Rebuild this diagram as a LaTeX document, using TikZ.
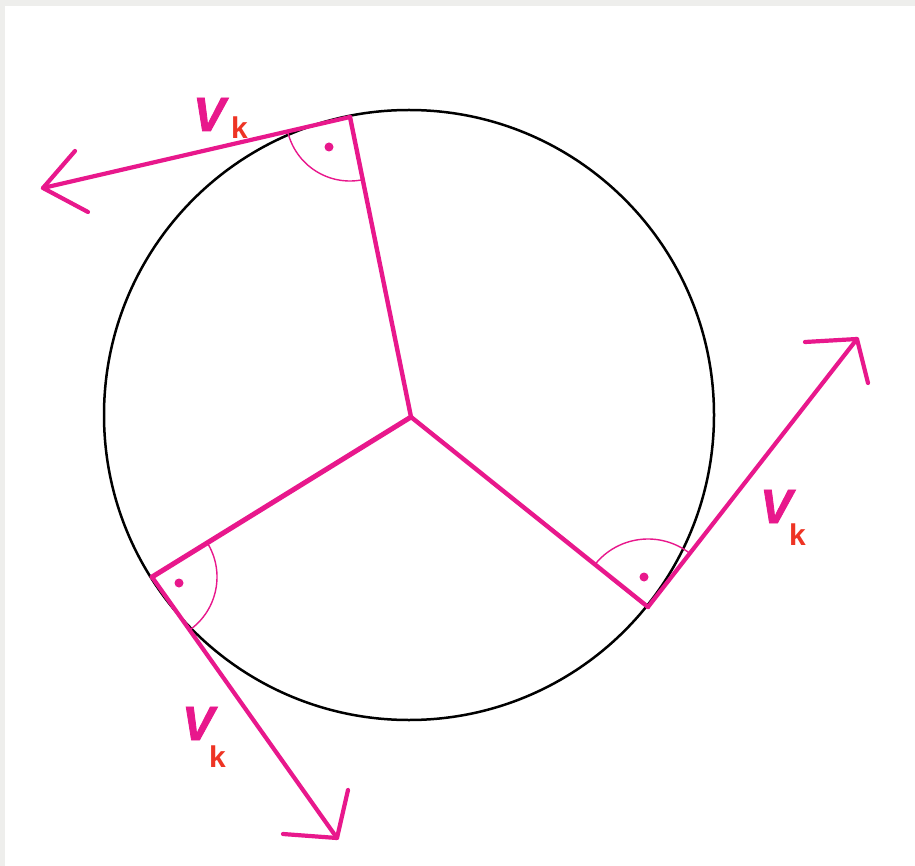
\documentclass[tikz,border=0pt]{standalone}
\usepackage{fontspec}
\setmainfont{Liberation Sans}
\newfontfamily\vfont[FakeBold=1.8]{Liberation Sans Bold Italic}
\definecolor{mag}{RGB}{232,24,140}
\definecolor{kred}{RGB}{238,52,36}
\definecolor{edge}{RGB}{238,238,236}
\begin{document}
\begin{tikzpicture}[x=1pt,y=-1pt,
  vec/.style={draw=mag,line width=4.2pt,line cap=round,line join=round},
  radius line/.style={draw=mag,line width=4.4pt,line cap=round},
  rightarc/.style={draw=mag,line width=1.4pt},
  dotmark/.style={fill=mag},
  lab/.style={inner sep=0pt,anchor=base west}]
\useasboundingbox (0,0) rectangle (915,866);
\fill[edge] (0,0) rectangle (915,866);
\fill[white] (5,6) rectangle (915,866);
% circle
\coordinate (O) at (409,415);
\draw[black,line width=2.5pt] (O) circle[radius=305];
% points
\coordinate (C) at (411,417);
\coordinate (A) at (350,117);
\coordinate (B) at (152,577);
\coordinate (R) at (648,607);
% tips
\coordinate (At) at (43,188);
\coordinate (Bt) at (337,838);
\coordinate (Rt) at (857,339);
% radial lines
\draw[radius line] (C) -- (A);
\draw[radius line,line width=5pt] (C) -- (B);
\draw[radius line] (C) -- (R);
% vectors
\draw[vec] (A) -- (At);
\draw[vec] (75,151) -- (At) -- (88,212);
\draw[vec] (B) -- (Bt);
\draw[vec] (348,790) -- (Bt) -- (283,834);
\draw[vec] (R) -- (Rt);
\draw[vec] (805,342) -- (Rt) -- (868,383);
% right angle marks
\draw[rightarc] (A) ++(78.6:64) arc[start angle=78.6,end angle=166.8,radius=64];
\fill[dotmark] (329,147) circle[radius=4.5];
\draw[rightarc] (B) ++(-32:65) arc[start angle=-32,end angle=54.7,radius=65];
\fill[dotmark] (179,583) circle[radius=4.5];
\draw[rightarc] (R) ++(-141.3:68) arc[start angle=-141.3,end angle=-52,radius=68];
\fill[dotmark] (644,577) circle[radius=4.5];
% labels
\node[lab] (l1) at (193,131) {\fontsize{48}{48}\vfont\color{mag}V};
\node[lab] (l1k) at (231,139) {\fontsize{30}{30}\selectfont\bfseries\color{kred}k};
\node[lab] (l2) at (760,523) {\fontsize{48}{48}\vfont\color{mag}V};
\node[lab] (l2k) at (789,545) {\fontsize{30}{30}\selectfont\bfseries\color{kred}k};
\node[lab] (l3) at (182,740) {\fontsize{48}{48}\vfont\color{mag}V};
\node[lab] (l3k) at (209,767) {\fontsize{30}{30}\selectfont\bfseries\color{kred}k};
\end{tikzpicture}
\end{document}
